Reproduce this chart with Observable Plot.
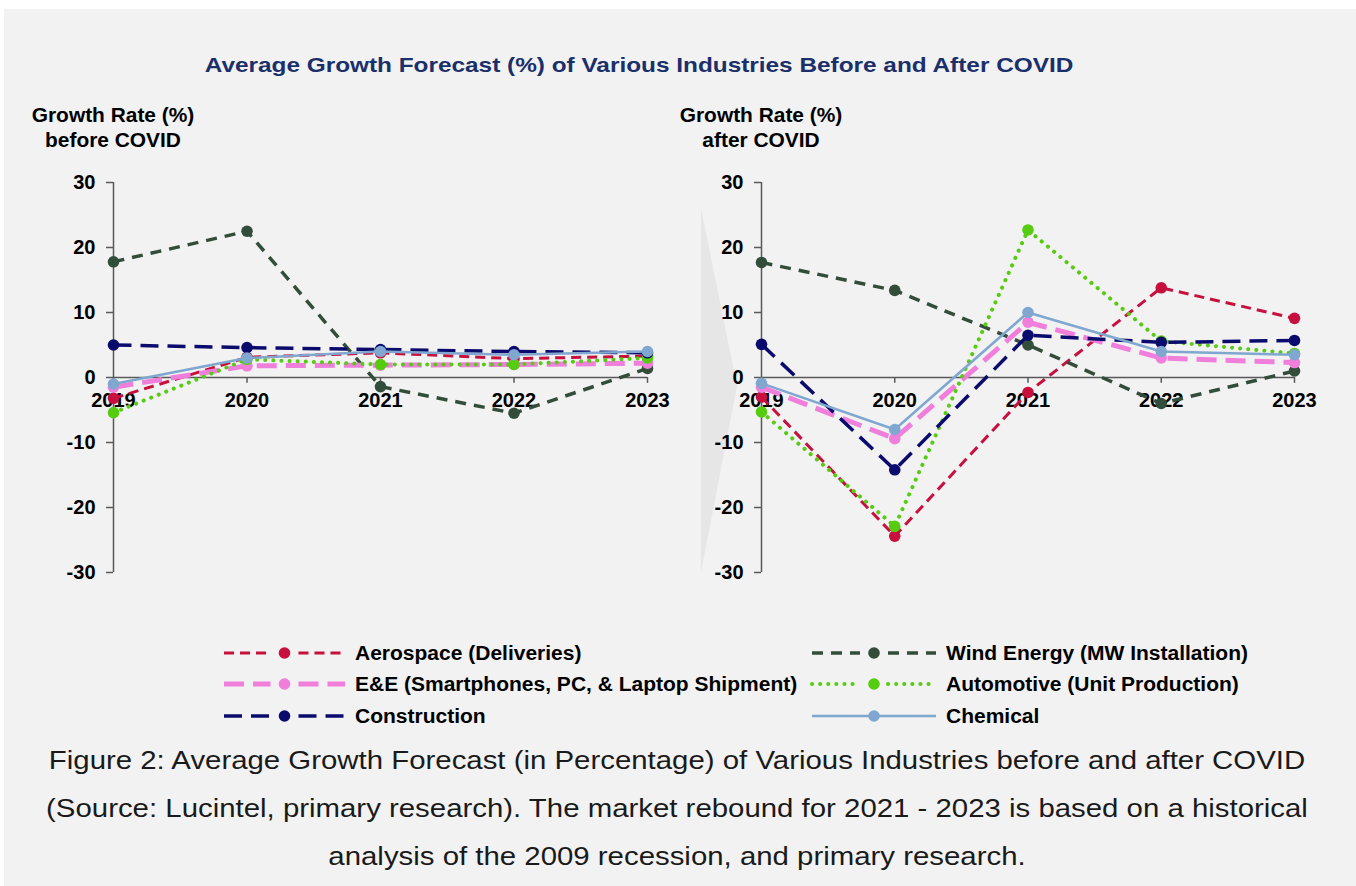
<!DOCTYPE html>
<html>
<head>
<meta charset="utf-8">
<script src="https://cdn.jsdelivr.net/npm/d3@7"></script>
<script src="https://cdn.jsdelivr.net/npm/@observablehq/plot@0.6"></script>
<style>
  html, body { margin: 0; padding: 0; background: #ffffff; }
  body { width: 1356px; height: 886px; position: relative; overflow: hidden;
         font-family: Arial, "Liberation Sans", sans-serif; }
  #panel { position: absolute; left: 4px; top: 9px; width: 1352px; height: 877px; background: #f2f2f2; }
  .abs { position: absolute; white-space: nowrap; }
  #title { left: 639px; top: 65px; font-size: 21px; font-weight: bold; color: #1b2f6b;
           transform: translate(-50%, -50%) scaleX(1.16); }
  .ytitle { font-size: 20px; font-weight: bold; color: #000; text-align: center; line-height: 25px;
            transform: translate(-50%, -50%) scaleX(1.045); }
  #caption { left: 677px; top: 808px; font-size: 26px; color: #1a1a1a; text-align: center; line-height: 48px;
             transform: translate(-50%, -50%) scaleX(1.13); }
  #arrow { left: 701px; top: 208px; width: 36px; height: 364px; background: #e6e6e6;
           clip-path: polygon(0 0, 100% 49%, 0 100%); }
  .plot { position: absolute; top: 160px; }
  .legtext { font-size: 20px; font-weight: bold; color: #000; transform-origin: left center;
             transform: translateY(-50%) scaleX(1.05); }
</style>
</head>
<body>
<div id="panel"></div>
<div id="arrow" class="abs"></div>
<div id="title" class="abs">Average Growth Forecast (%) of Various Industries Before and After COVID</div>
<div class="abs ytitle" style="left:113px; top:128px;">Growth Rate (%)<br>before COVID</div>
<div class="abs ytitle" style="left:761px; top:128px;">Growth Rate (%)<br>after COVID</div>
<div id="left" class="plot" style="left:0px;"></div>
<div id="right" class="plot" style="left:680px;"></div>
<div id="legend"></div>
<div id="caption" class="abs">Figure 2: Average Growth Forecast (in Percentage) of Various Industries before and after COVID<br>(Source: Lucintel, primary research). The market rebound for 2021 - 2023 is based on a historical<br>analysis of the 2009 recession, and primary research.</div>
<script>
// ---- data ----
const years = [2019, 2020, 2021, 2022, 2023];
const seriesNames = [
  "Aerospace (Deliveries)",
  "Wind Energy (MW Installation)",
  "E&E (Smartphones, PC, & Laptop Shipment)",
  "Automotive (Unit Production)",
  "Construction",
  "Chemical"
];
const yTicks = [-30, -20, -10, 0, 10, 20, 30];

// before COVID
const aerospaceBefore    = [-3.2, 3.1, 3.8, 2.9, 3.3];
const windBefore         = [17.8, 22.5, -1.4, -5.5, 1.4];
const eeBefore           = [-1.5, 1.8, 1.9, 2.0, 2.2];
const automotiveBefore   = [-5.4, 2.8, 2.0, 2.0, 3.0];
const constructionBefore = [5.0, 4.6, 4.3, 4.0, 3.8];
const chemicalBefore     = [-1.0, 3.0, 4.0, 3.5, 4.0];

// after COVID
const aerospaceAfter    = [-3.0, -24.4, -2.3, 13.8, 9.1];
const windAfter         = [17.7, 13.4, 5.0, -4.0, 1.0];
const eeAfter           = [-1.5, -9.4, 8.5, 3.0, 2.3];
const automotiveAfter   = [-5.3, -22.9, 22.7, 5.6, 3.7];
const constructionAfter = [5.1, -14.2, 6.5, 5.4, 5.7];
const chemicalAfter     = [-0.9, -8.0, 10.0, 4.0, 3.5];

// ---- styles ----
const colors = ["#c8103e", "#334d3b", "#f07fdc", "#55cc10", "#0b0b6e", "#7fa7cf"];
const widths = [3, 3.5, 5, 4, 3.5, 2.5];
const dashes = ["10 6", "11 8", "20 9", "0.1 8", "18 9", null];

function buildRows(arrays) {
  const rows = [];
  arrays.forEach((arr, i) => arr.forEach((v, j) => rows.push({series: seriesNames[i], idx: i, year: years[j], value: v})));
  return rows;
}
const rowsBefore = buildRows([aerospaceBefore, windBefore, eeBefore, automotiveBefore, constructionBefore, chemicalBefore]);
const rowsAfter  = buildRows([aerospaceAfter, windAfter, eeAfter, automotiveAfter, constructionAfter, chemicalAfter]);

function makeChart(rows, width, marginLeft, marginRight) {
  const marks = [
    Plot.ruleX([2019], {y1: -30, y2: 30, stroke: "#595959", strokeWidth: 1.5}),
    Plot.ruleY([0], {x1: 2019, x2: 2023, stroke: "#595959", strokeWidth: 1.5}),
    Plot.ruleX(years, {x: d => d, y1: 0, y2: -0.9, stroke: "#595959", strokeWidth: 1.5}),
    Plot.axisY({ticks: yTicks, label: null, tickSize: 7, tickPadding: 11, stroke: "#595959", strokeWidth: 1.5,
                fill: "#000", fontSize: 20, fontWeight: "bold", tickFormat: d => String(d)}),
    Plot.text(years, {x: d => d, y: 0, text: d => String(d), dy: 23, fontSize: 20, fontWeight: "bold", fill: "#000"})
  ];
  seriesNames.forEach((name, i) => {
    const data = rows.filter(r => r.idx === i);
    marks.push(Plot.line(data, {x: "year", y: "value", stroke: colors[i], strokeWidth: widths[i],
      strokeDasharray: dashes[i] || undefined, strokeLinecap: i === 3 ? "round" : "butt", strokeLinejoin: "round"}));
    marks.push(Plot.dot(data, {x: "year", y: "value", r: 5.8, fill: colors[i], stroke: "none"}));
  });
  return Plot.plot({
    width, height: 440,
    marginLeft, marginRight, marginTop: 22, marginBottom: 28,
    x: {domain: [2019, 2023], axis: null},
    y: {domain: [-30, 30], axis: null},
    style: {background: "transparent", fontFamily: "Arial, 'Liberation Sans', sans-serif", overflow: "visible"},
    marks
  });
}

document.getElementById("left").appendChild(makeChart(rowsBefore, 680, 113, 33));
document.getElementById("right").appendChild(makeChart(rowsAfter, 676, 81, 62));

// ---- legend ----
const legend = document.getElementById("legend");
const legendCols = [{x1: 224, x2: 345, tx: 355}, {x1: 812, x2: 936, tx: 946}];
const legendRowsY = [653, 684, 716];
const svgNS = "http://www.w3.org/2000/svg";
const lsvg = document.createElementNS(svgNS, "svg");
lsvg.setAttribute("width", 1356); lsvg.setAttribute("height", 886);
lsvg.style.position = "absolute"; lsvg.style.left = "0"; lsvg.style.top = "0";
legend.appendChild(lsvg);
seriesNames.forEach((name, i) => {
  const col = legendCols[i % 2], y = legendRowsY[Math.floor(i / 2)];
  const cx = (col.x1 + col.x2) / 2;
  const segs = i === 5 ? [[col.x1, col.x2]] : [[col.x1, cx - 14], [cx + 14, col.x2]];
  segs.forEach(([a, b]) => {
    const ln = document.createElementNS(svgNS, "line");
    ln.setAttribute("x1", a); ln.setAttribute("x2", b); ln.setAttribute("y1", y); ln.setAttribute("y2", y);
    ln.setAttribute("stroke", colors[i]); ln.setAttribute("stroke-width", widths[i]);
    if (dashes[i]) ln.setAttribute("stroke-dasharray", dashes[i]);
    ln.setAttribute("stroke-linecap", i === 3 ? "round" : "butt");
    lsvg.appendChild(ln);
  });
  const c = document.createElementNS(svgNS, "circle");
  c.setAttribute("cx", cx); c.setAttribute("cy", y); c.setAttribute("r", 5.8); c.setAttribute("fill", colors[i]);
  lsvg.appendChild(c);
  const t = document.createElement("div");
  t.className = "abs legtext";
  t.style.left = col.tx + "px"; t.style.top = y + "px";
  t.textContent = name;
  legend.appendChild(t);
});
</script>
</body>
</html>
